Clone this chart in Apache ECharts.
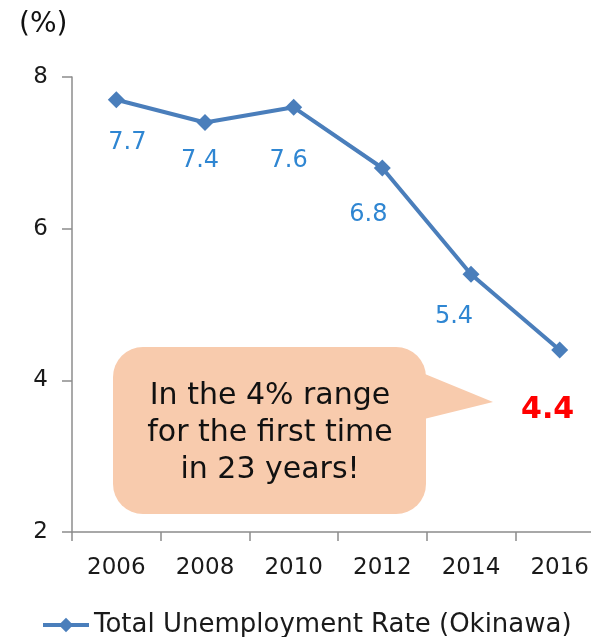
<!DOCTYPE html>
<html>
<head>
<meta charset="utf-8">
<script src="https://cdn.jsdelivr.net/npm/echarts@6/dist/echarts.min.js"></script>
<style>html,body{margin:0;padding:0;background:#fff;overflow:hidden;}#c{width:620px;height:637px;}</style>
</head>
<body>
<div id="c"></div>
<script>
const years = ['2006', '2008', '2010', '2012', '2014', '2016'];
const rates = [7.7, 7.4, 7.6, 6.8, 5.4, 4.4];
const seriesName = 'Total Unemployment Rate (Okinawa)';
const yTicks = { min: 2, max: 8, interval: 2 };
const calloutLines = ['In the 4% range', 'for the first time', 'in 23 years!'];

// label placement (style only)
const labelOffsets = [[11, 43], [-5, 38], [-5, 53], [-14, 47], [-17, 43], [-12, 60]];

const FONT = 'DejaVu Sans';
const chart = echarts.init(document.getElementById('c'), null, { renderer: 'canvas' });

const data = rates.map((v, i) => {
  const last = i === rates.length - 1;
  return {
    value: v,
    label: {
      show: true,
      position: 'inside',
      offset: labelOffsets[i],
      color: last ? '#ff0000' : '#2f86d2',
      fontSize: last ? 30 : 24,
      fontWeight: last ? 'bold' : 'normal',
      fontFamily: FONT
    }
  };
});

chart.setOption({
  animation: false,
  backgroundColor: '#ffffff',
  grid: { left: 72, top: 77, width: 532, height: 455 },
  xAxis: {
    type: 'category',
    data: years,
    boundaryGap: true,
    axisLine: { lineStyle: { color: '#8c8c8c', width: 1.5 } },
    axisTick: { show: true, length: 9, lineStyle: { color: '#8c8c8c', width: 1.5 } },
    axisLabel: { color: '#1a1a1a', fontSize: 23, fontFamily: FONT, margin: 25 }
  },
  yAxis: {
    type: 'value',
    min: yTicks.min, max: yTicks.max, interval: yTicks.interval,
    splitLine: { show: false },
    axisLine: { show: true, lineStyle: { color: '#8c8c8c', width: 1.5 } },
    axisTick: { show: true, length: 10, lineStyle: { color: '#8c8c8c', width: 1.5 } },
    axisLabel: { color: '#1a1a1a', fontSize: 23, fontFamily: FONT, margin: 24 }
  },
  legend: {
    show: true,
    left: 36,
    top: 607,
    itemWidth: 46,
    itemHeight: 18,
    itemGap: 4,
    lineStyle: { width: 4 },
    textStyle: { color: '#1a1a1a', fontSize: 26, fontFamily: FONT }
  },
  series: [{
    name: seriesName,
    type: 'line',
    data: data,
    symbol: 'diamond',
    symbolSize: 17,
    itemStyle: { color: '#4a7ebb' },
    lineStyle: { color: '#4a7ebb', width: 4 }
  }],
  graphic: [
    {
      type: 'polygon',
      shape: { points: [[420, 372], [493, 402], [420, 420]] },
      style: { fill: '#f8cbad' }
    },
    {
      type: 'rect',
      shape: { x: 113, y: 347, width: 313, height: 167, r: 30 },
      style: { fill: '#f8cbad' }
    },
    {
      type: 'text',
      x: 270, y: 433,
      style: {
        text: calloutLines.join('\n'),
        fill: '#111111',
        font: '30px "DejaVu Sans"',
        lineHeight: 37,
        align: 'center',
        verticalAlign: 'middle'
      }
    },
    {
      type: 'text',
      x: 19, y: 25,
      style: {
        text: '(%)',
        fill: '#111111',
        font: '28px "DejaVu Sans"',
        verticalAlign: 'middle'
      }
    }
  ]
});
</script>
</body>
</html>
